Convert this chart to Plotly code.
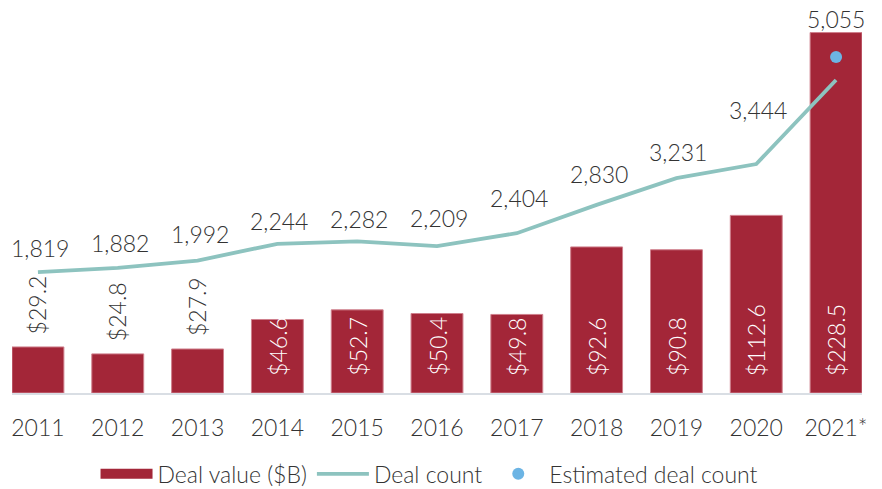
import plotly.graph_objects as go

years = ["2011", "2012", "2013", "2014", "2015", "2016", "2017", "2018", "2019", "2020", "2021*"]
deal_value = [29.2, 24.8, 27.9, 46.6, 52.7, 50.4, 49.8, 92.6, 90.8, 112.6, 228.5]
deal_count = [1819, 1882, 1992, 2244, 2282, 2209, 2404, 2830, 3231, 3444, 4709]
estimated_year = ["2021*"]
estimated_count = [5055]

# styling: vertical offsets (px) of the deal count labels above their points
count_label_dy = [24, 25, 27, 23, 22, 28, 35, 31, 26, 54]

BAR = "#A32638"
LINE = "#8DC3BF"
DOT = "#6CB4E4"
TXT = "#333333"
FONT = dict(family="Lato", size=23, color=TXT, weight=300)

fig = go.Figure()

fig.add_trace(go.Bar(
    x=years, y=deal_value, name="Deal value ($B)",
    marker=dict(color=BAR, line=dict(color="#CF7F8C", width=1)),
    showlegend=False, yaxis="y",
))
# legend entry for the bars (wide swatch)
fig.add_trace(go.Scatter(
    x=[None], y=[None], mode="lines", name="Deal value ($B)",
    line=dict(color=BAR, width=13), yaxis="y",
))
fig.add_trace(go.Scatter(
    x=years, y=deal_count, mode="lines", name="Deal count",
    line=dict(color=LINE, width=3.8), yaxis="y2",
))
fig.add_trace(go.Scatter(
    x=estimated_year, y=estimated_count, mode="markers", name="Estimated deal count",
    marker=dict(color=DOT, size=12), yaxis="y2",
))

cat_index = {yr: i for i, yr in enumerate(years)}

annotations = []
for yr, v in zip(years, deal_value):
    inside = v > 40
    annotations.append(dict(
        x=cat_index[yr], y=0 if inside else v, xref="x", yref="y",
        text=f"${v:.1f}", textangle=-90, showarrow=False,
        xanchor="center", yanchor="bottom", yshift=15 if inside else 11,
        font=dict(family="Lato", size=23, weight=300, color="white" if inside else TXT),
    ))
for yr, c, dy in zip(years, deal_count, count_label_dy):
    annotations.append(dict(
        x=cat_index[yr], y=c, xref="x", yref="y2", text=f"{c:,}", showarrow=False,
        xanchor="center", yanchor="middle", yshift=dy, xshift=2, font=FONT,
    ))
for yr, c in zip(estimated_year, estimated_count):
    annotations.append(dict(
        x=cat_index[yr], y=c, xref="x", yref="y2", text=f"{c:,}", showarrow=False,
        xanchor="center", yanchor="middle", yshift=38, font=FONT,
    ))

fig.update_layout(
    width=882, height=489,
    margin=dict(l=12, r=20, t=10, b=96, autoexpand=False),
    paper_bgcolor="white", plot_bgcolor="white",
    font=FONT,
    bargap=0.35,
    hovermode=False,
    xaxis=dict(
        type="category", range=[-0.325, 10.325], automargin=False,
        showline=True, linecolor="#D9DEE4", linewidth=2,
        showgrid=False, ticks="", ticklabelstandoff=13,
        tickfont=FONT, fixedrange=True,
    ),
    yaxis=dict(range=[0, 242.8], visible=False, showgrid=False, zeroline=False,
               fixedrange=True),
    yaxis2=dict(range=[0, 5761], overlaying="y", side="right", visible=False,
                showgrid=False, zeroline=False, fixedrange=True),
    legend=dict(
        orientation="h", xanchor="center", x=0.487, xref="container",
        yanchor="middle", y=0.031, yref="container",
        font=dict(family="Lato", size=23, weight=300, color=TXT),
        itemwidth=52, tracegroupgap=0,
    ),
    annotations=annotations,
    showlegend=True,
)

# remove the default 8px body margin so the figure fills the window exactly
fig.write_html(
    "out.html",
    config={"displayModeBar": False},
    post_script="document.body.style.margin='0';",
)
